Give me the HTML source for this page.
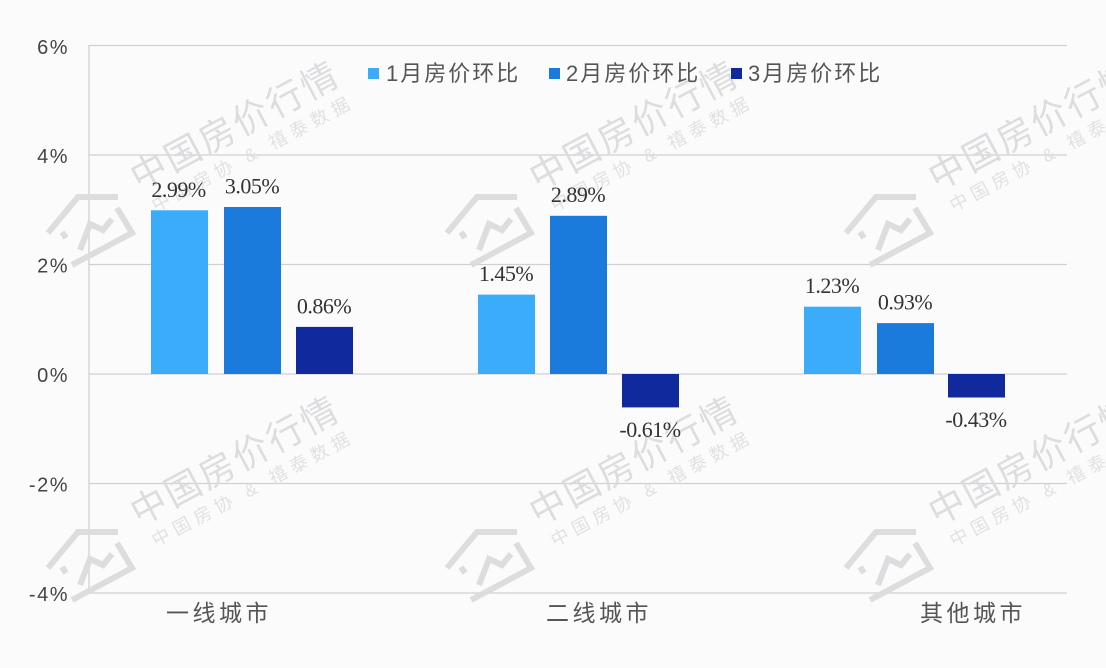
<!DOCTYPE html>
<html><head><meta charset="utf-8">
<style>
html,body{margin:0;padding:0;background:#fbfbfc;}
svg{display:block;}
.yl{font-family:"Liberation Sans","Noto Sans CJK SC",sans-serif;font-size:20px;fill:#444;letter-spacing:1.5px;}
.dl{font-family:"Liberation Serif","Noto Serif CJK SC",serif;font-size:22px;fill:#333;letter-spacing:-0.5px;}
.cat{font-family:"Liberation Sans","Noto Sans CJK SC",sans-serif;font-size:23px;fill:#555;letter-spacing:3.5px;}
.lg{font-family:"Liberation Sans","Noto Sans CJK SC",sans-serif;font-size:22px;fill:#555;letter-spacing:2px;}
.wm1{font-family:"Liberation Sans","Noto Sans CJK SC",sans-serif;font-size:36px;fill:#dcdcde;letter-spacing:2.5px;}
.wm2{font-family:"Liberation Sans","Noto Sans CJK SC",sans-serif;font-size:18px;fill:#e0e0e2;letter-spacing:5.5px;}
</style></head>
<body>
<svg width="1106" height="668" viewBox="0 0 1106 668" xmlns="http://www.w3.org/2000/svg">
<rect x="0" y="0" width="1106" height="668" fill="#fbfbfc"/>
<!-- gridlines -->
<g stroke="#d0d0d2" stroke-width="1.3">
<line x1="89" y1="45.5" x2="1067" y2="45.5"/>
<line x1="89" y1="155" x2="1067" y2="155"/>
<line x1="89" y1="264.5" x2="1067" y2="264.5"/>
<line x1="89" y1="374" x2="1067" y2="374"/>
<line x1="89" y1="483.5" x2="1067" y2="483.5"/>
<line x1="89" y1="593" x2="1067" y2="593"/>
<line x1="89" y1="45" x2="89" y2="593.5"/>
</g>
<!-- watermarks -->
<defs>
<g id="wm">
<text class="wm1" x="139" y="191" transform="rotate(-28 139 191)">中国房价行情</text>
<text class="wm2" x="156" y="212" transform="rotate(-28 156 212)">中国房协 &amp; 禧泰数据</text>
<g fill="none" stroke="#dcdcde" stroke-width="6" stroke-linejoin="miter">
<path d="M48,233 L78,197 L118,197"/>
<path d="M117,208 L132,233 L72,265"/>
<path d="M62,232 L66,238"/>
<path d="M80,250 L90,224 L103,230 L112,219"/>
</g>
</g>
</defs>
<g opacity="0.95">
<use href="#wm" x="0" y="0"/>
<use href="#wm" x="399" y="0"/>
<use href="#wm" x="798" y="0"/>
<use href="#wm" x="0" y="335"/>
<use href="#wm" x="399" y="335"/>
<use href="#wm" x="798" y="335"/>
</g>
<!-- y labels -->
<text class="yl" x="69" y="54" text-anchor="end">6%</text>
<text class="yl" x="69" y="163" text-anchor="end">4%</text>
<text class="yl" x="69" y="272.5" text-anchor="end">2%</text>
<text class="yl" x="69" y="382" text-anchor="end">0%</text>
<text class="yl" x="69" y="491.5" text-anchor="end">-2%</text>
<text class="yl" x="69" y="601" text-anchor="end">-4%</text>
<!-- bars -->
<g>
<rect x="151" y="210.3" width="57" height="163.7" fill="#3aacf9"/>
<rect x="224" y="207" width="57" height="167" fill="#1a7bdc"/>
<rect x="296" y="326.9" width="57" height="47.1" fill="#10299c"/>
<rect x="478" y="294.6" width="57" height="79.4" fill="#3aacf9"/>
<rect x="550" y="215.8" width="57" height="158.2" fill="#1a7bdc"/>
<rect x="622" y="374" width="57" height="33.4" fill="#10299c"/>
<rect x="804" y="306.7" width="57" height="67.3" fill="#3aacf9"/>
<rect x="877" y="323.1" width="57" height="50.9" fill="#1a7bdc"/>
<rect x="948" y="374" width="57" height="23.5" fill="#10299c"/>
</g>
<!-- data labels -->
<g text-anchor="middle">
<text class="dl" x="178.5" y="197">2.99%</text>
<text class="dl" x="252" y="193.5">3.05%</text>
<text class="dl" x="324" y="313.5">0.86%</text>
<text class="dl" x="506" y="281">1.45%</text>
<text class="dl" x="578" y="202">2.89%</text>
<text class="dl" x="650" y="437">-0.61%</text>
<text class="dl" x="832" y="293">1.23%</text>
<text class="dl" x="905" y="309.5">0.93%</text>
<text class="dl" x="976" y="427">-0.43%</text>
</g>
<!-- category labels -->
<text class="cat" x="166" y="621">一线城市</text>
<text class="cat" x="546" y="621">二线城市</text>
<text class="cat" x="920" y="621">其他城市</text>
<!-- legend -->
<rect x="368" y="68" width="11" height="11" fill="#3aacf9"/>
<text class="lg" x="386" y="81">1月房价环比</text>
<rect x="549" y="68" width="11" height="11" fill="#1a7bdc"/>
<text class="lg" x="566" y="81">2月房价环比</text>
<rect x="731" y="68" width="11" height="11" fill="#10299c"/>
<text class="lg" x="748" y="81">3月房价环比</text>
</svg>
</body></html>
